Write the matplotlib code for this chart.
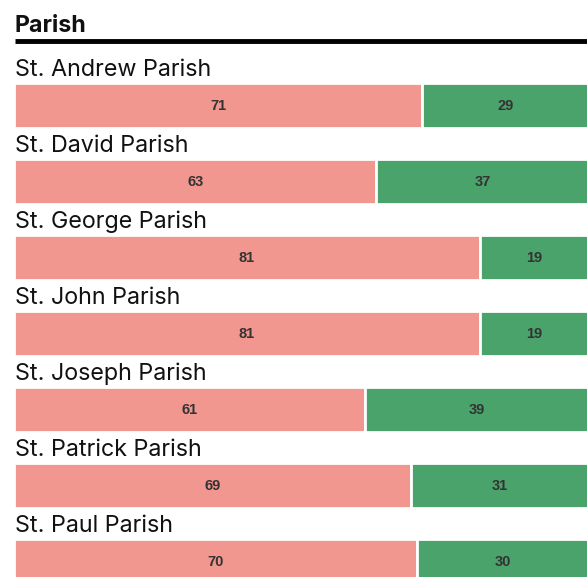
import matplotlib.pyplot as plt

parishes = ["St. Andrew Parish", "St. David Parish", "St. George Parish",
            "St. John Parish", "St. Joseph Parish", "St. Patrick Parish",
            "St. Paul Parish"]
first = [71, 63, 81, 81, 61, 69, 70]
second = [29, 37, 19, 19, 39, 31, 30]

pink = "#f1978f"
green = "#4aa36a"

W, H = 587, 577
fig = plt.figure(figsize=(W / 100, H / 100), dpi=100)
# x in percent (bar runs slightly past the right edge), y in pixels from the top
ax = fig.add_axes([14 / W, 0, 575 / W, 1])
ax.set_xlim(0, 100)
ax.set_ylim(H, 0)
ax.axis("off")

row0, pitch, bar_h = 105, 76, 45
ys = [row0 + pitch * i for i in range(len(parishes))]

ax.barh(ys, first, height=bar_h, color=pink, edgecolor="white", linewidth=2.0, clip_on=False)
ax.barh(ys, second, left=first, height=bar_h, color=green, edgecolor="white", linewidth=2.0, clip_on=False)

x0 = 1 / 5.75  # labels start at pixel 15
for y, name, a, b in zip(ys, parishes, first, second):
    ax.text(x0, y - 29, name, fontsize=16.8, family="Inter", va="baseline", ha="left", color="#111")
    ax.text(a / 2, y + 1, str(a), fontsize=10.5, fontweight="bold", family="Liberation Sans",
            ha="center", va="center", color="#333")
    ax.text(a + b / 2, y + 1, str(b), fontsize=10.5, fontweight="bold", family="Liberation Sans",
            ha="center", va="center", color="#333")

ax.text(x0, 32, "Parish", fontsize=16.7, fontweight="bold", family="Inter", va="baseline", ha="left", color="#111")
ax.plot([x0, 100], [40.5, 40.5], color="black", linewidth=3.5, solid_capstyle="butt", clip_on=False)

fig.savefig("out.png", dpi=100)
